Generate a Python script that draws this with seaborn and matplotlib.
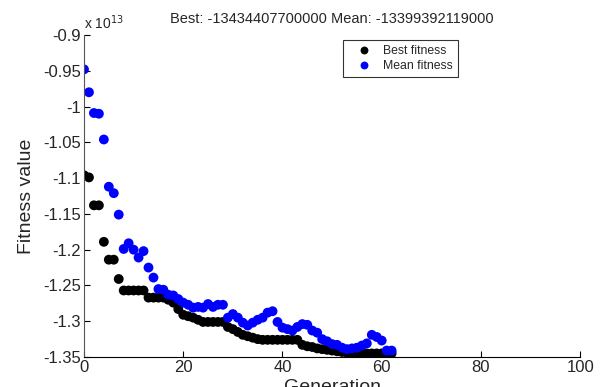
import numpy as np
import pandas as pd
import seaborn as sns
from matplotlib import pyplot as plt
from matplotlib.ticker import FuncFormatter

# values in units of 1e13
generation = np.arange(63)
best_fitness = [-1.096, -1.099, -1.138, -1.138, -1.189, -1.214, -1.214, -1.241,
                -1.257, -1.257, -1.257, -1.257, -1.257, -1.267, -1.267, -1.267,
                -1.267, -1.270, -1.274, -1.283, -1.291, -1.293, -1.295, -1.298,
                -1.301, -1.301, -1.301, -1.301, -1.301, -1.308, -1.311, -1.315,
                -1.319, -1.321, -1.323, -1.325, -1.326, -1.326, -1.326, -1.326,
                -1.326, -1.326, -1.326, -1.326, -1.333, -1.335, -1.336, -1.338,
                -1.339, -1.340, -1.341, -1.342, -1.343, -1.344, -1.345, -1.345,
                -1.345, -1.345, -1.345, -1.345, -1.345, -1.345, -1.345]
mean_fitness = [-0.948, -0.980, -1.009, -1.010, -1.046, -1.112, -1.121, -1.151,
                -1.199, -1.191, -1.200, -1.211, -1.202, -1.225, -1.239, -1.255,
                -1.256, -1.263, -1.264, -1.269, -1.274, -1.277, -1.281, -1.280,
                -1.281, -1.276, -1.280, -1.277, -1.277, -1.295, -1.290, -1.295,
                -1.302, -1.306, -1.302, -1.298, -1.295, -1.288, -1.286, -1.301,
                -1.309, -1.311, -1.313, -1.308, -1.304, -1.305, -1.313, -1.316,
                -1.325, -1.328, -1.332, -1.333, -1.337, -1.339, -1.338, -1.337,
                -1.334, -1.331, -1.319, -1.322, -1.327, -1.341, -1.341]
series_names = ['Best fitness', 'Mean fitness']
title_text = 'Best: -13434407700000 Mean: -13399392119000'

df = pd.concat([
    pd.DataFrame({'Generation': generation, 'Fitness': best_fitness, 'series': series_names[0]}),
    pd.DataFrame({'Generation': generation, 'Fitness': mean_fitness, 'series': series_names[1]}),
])

sns.set_style('white')
plt.rcParams['font.family'] = ['Liberation Sans', 'DejaVu Sans']

f = plt.figure(figsize=(6, 3.87), dpi=100)
ax = f.add_axes([0.14, 0.0775, 0.827, 0.832])

sns.scatterplot(data=df, x='Generation', y='Fitness', hue='series',
                hue_order=series_names, palette=['black', 'blue'],
                s=50, linewidth=0, ax=ax)

ax.set_xlim(0, 100)
ax.set_ylim(-1.35, -0.9)
ax.set_xticks(np.arange(0, 101, 20))
ax.set_yticks(np.arange(-1.35, -0.899, 0.05))
ax.yaxis.set_major_formatter(FuncFormatter(lambda v, p: '%g' % round(v, 2)))
ax.tick_params(direction='in', length=4, width=0.8, labelsize=12, pad=2,
               left=True, bottom=True, color='black')
for s in ['top', 'right']:
    ax.spines[s].set_visible(False)
ax.spines['left'].set_color('#555555')
ax.spines['bottom'].set_color('black')

ax.set_xlabel('Generation', fontsize=14, labelpad=3)
ax.set_ylabel('Fitness value', fontsize=14, labelpad=6)
ax.set_title(title_text, fontsize=10.5, pad=9)
ax.text(0.0, 1.008, 'x 10$^{13}$', transform=ax.transAxes, fontsize=10,
        ha='left', va='bottom')

leg = ax.legend(loc='upper left', bbox_to_anchor=(0.522, 0.984), fontsize=8.8,
                frameon=True, fancybox=False, edgecolor='black',
                borderaxespad=0, borderpad=0.4, handletextpad=0.3,
                handlelength=2.6, labelspacing=0.25, markerscale=0.8)
leg.get_frame().set_linewidth(0.8)

f.savefig('out.png', dpi=100)
